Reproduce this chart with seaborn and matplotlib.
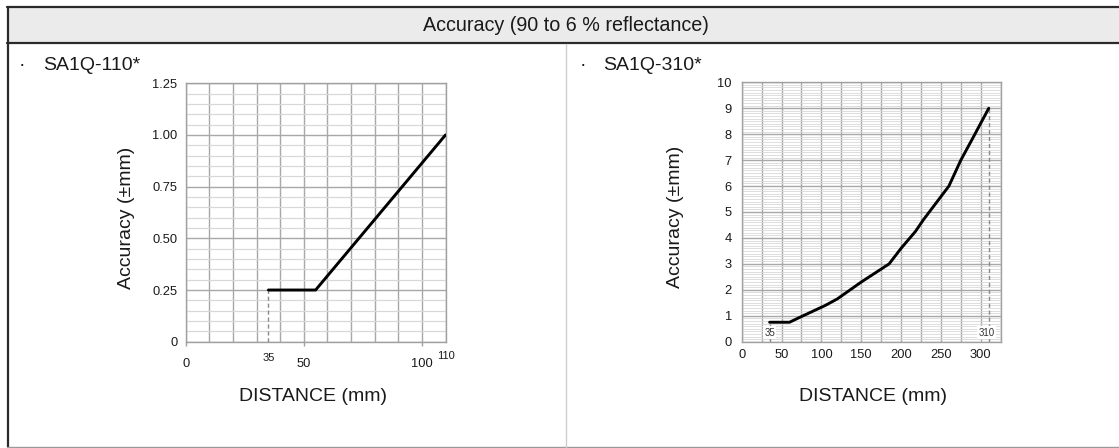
import numpy as np
import pandas as pd
import matplotlib
matplotlib.use("Agg")
import matplotlib.pyplot as plt
import matplotlib.transforms as mtransforms
from matplotlib.patches import Rectangle
from matplotlib.lines import Line2D
import seaborn as sns

# ---------------- data ----------------
title_text = "Accuracy (90 to 6 % reflectance)"
left_model = "SA1Q-110*"
right_model = "SA1Q-310*"

left_dist = [35, 55, 110]
left_acc = [0.25, 0.25, 1.00]
left_xticks = [0, 50, 100]
left_yticks = [0, 0.25, 0.50, 0.75, 1.00, 1.25]
left_yticklabels = ["0", "0.25", "0.50", "0.75", "1.00", "1.25"]
left_marks = [35, 110]

right_dist = [35, 60, 75, 105, 120, 150, 185, 200, 218, 228, 260, 275, 290, 310]
right_acc = [0.75, 0.75, 0.97, 1.40, 1.65, 2.30, 3.00, 3.60, 4.25, 4.70, 6.00, 7.00, 7.85, 9.00]
right_xticks = [0, 50, 100, 150, 200, 250, 300]
right_yticks = list(range(0, 11))
right_marks = [35, 310]

xlabel = "DISTANCE (mm)"
ylabel = "Accuracy (\u00b1mm)"

# ---------------- style ----------------
sns.set_theme(style="white")
plt.rcParams["font.family"] = ["Liberation Sans", "DejaVu Sans"]

W, H = 1119, 448
fig = plt.figure(figsize=(W / 100, H / 100), dpi=100)

def px_rect(l, t, r, b):
    return [l / W, 1 - b / H, (r - l) / W, (b - t) / H]

# frame / title bar
fig.add_artist(Rectangle((7 / W, 1 - 44 / H), 1 - 7 / W, 37 / H, transform=fig.transFigure,
                         facecolor="#ebebeb", edgecolor="none", zorder=0))
for yy in (7.5, 43.5):
    fig.add_artist(Line2D([7 / W, 1], [1 - yy / H] * 2, transform=fig.transFigure,
                          color="#2a2a2a", lw=1.6))
fig.add_artist(Line2D([8 / W] * 2, [1 - 7 / H, 1 - 447 / H], transform=fig.transFigure,
                      color="#2a2a2a", lw=1.6))
fig.add_artist(Line2D([7 / W, 1], [1 - 447 / H] * 2, transform=fig.transFigure,
                      color="#9a9a9a", lw=1.0))
fig.add_artist(Line2D([566 / W] * 2, [1 - 44 / H, 1 - 447 / H], transform=fig.transFigure,
                      color="#cfcfcf", lw=1.0))
fig.text(566 / W, 1 - 25.5 / H, title_text, ha="center", va="center", fontsize=14.2, color="#1a1a1a")

# subtitles
fig.text(22 / W, 1 - 66 / H, "\u00b7", ha="center", va="center", fontsize=14, color="#1a1a1a")
fig.text(43 / W, 1 - 66 / H, left_model, ha="left", va="center", fontsize=14, color="#1a1a1a")
fig.text(583 / W, 1 - 66 / H, "\u00b7", ha="center", va="center", fontsize=14, color="#1a1a1a")
fig.text(603 / W, 1 - 66 / H, right_model, ha="left", va="center", fontsize=14, color="#1a1a1a")

axL = fig.add_axes(px_rect(185.7, 83.3, 445.5, 341.7))
axR = fig.add_axes(px_rect(741.7, 82.3, 1000.7, 341.7))

major_c = "#a8a8a8"
minor_c = "#d8d8d8"

def style_axes(ax, minor_lw):
    ax.set_facecolor("white")
    for s in ax.spines.values():
        s.set_color("#a0a0a0")
        s.set_linewidth(1.0)
    ax.set_axisbelow(True)
    ax.grid(which="minor", axis="y", color=minor_c, lw=minor_lw)
    ax.grid(which="major", axis="y", color=major_c, lw=1.0)
    ax.grid(which="both", axis="x", color=major_c, lw=1.0)

# ---------- left chart ----------
dfL = pd.DataFrame({"dist": left_dist, "acc": left_acc})
sns.lineplot(data=dfL, x="dist", y="acc", ax=axL, color="black", lw=2.1, zorder=5)
axL.set_xlim(0, 110)
axL.set_ylim(0, 1.25)
axL.set_xticks(left_xticks)
axL.set_xticks(np.arange(0, 111, 10), minor=True)
axL.set_yticks(left_yticks)
axL.set_yticklabels(left_yticklabels)
axL.set_yticks(np.arange(0, 1.2501, 0.05), minor=True)
style_axes(axL, 0.9)
axL.tick_params(axis="x", which="major", length=3, width=1, color="#a0a0a0", pad=9,
                labelsize=9.3, labelcolor="#1a1a1a", bottom=True)
axL.tick_params(axis="x", which="minor", length=0)
axL.tick_params(axis="y", which="both", length=0, pad=6, labelsize=9.3, labelcolor="#1a1a1a")
axL.vlines(left_dist[0], 0, left_acc[0], colors="#8a8a8a", linestyles=(0, (3, 2)), lw=1.0, zorder=4)
tL = mtransforms.blended_transform_factory(axL.transData, axL.transAxes)
axL.text(left_marks[0], -0.045, str(left_marks[0]), transform=tL, ha="center", va="top",
         fontsize=8, color="#1a1a1a")
axL.text(left_marks[1], -0.035, str(left_marks[1]), transform=tL, ha="center", va="top",
         fontsize=8, color="#1a1a1a")
axL.set_xlabel(xlabel, fontsize=14, color="#1a1a1a")
axL.set_ylabel(ylabel, fontsize=14, color="#1a1a1a")
axL.xaxis.set_label_coords(0.489, -0.213)
axL.xaxis.label.set_va("center")
axL.yaxis.set_label_coords(-0.226, 0.48)
axL.yaxis.label.set_va("center")

# ---------- right chart ----------
dfR = pd.DataFrame({"dist": right_dist, "acc": right_acc})
sns.lineplot(data=dfR, x="dist", y="acc", ax=axR, color="black", lw=2.1, zorder=5)
axR.set_xlim(0, 325)
axR.set_ylim(0, 10)
axR.set_xticks(right_xticks)
axR.set_xticks(np.arange(0, 326, 25), minor=True)
axR.set_yticks(right_yticks)
axR.set_yticks(np.arange(0, 10.001, 0.1), minor=True)
style_axes(axR, 0.6)
axR.tick_params(axis="x", which="both", length=0, pad=5, labelsize=9.3, labelcolor="#1a1a1a")
axR.tick_params(axis="y", which="both", length=0, pad=7, labelsize=9.3, labelcolor="#1a1a1a")
axR.vlines(right_marks[0], 0, right_acc[0], colors="#8a8a8a", linestyles=(0, (3, 2)), lw=1.0, zorder=4)
axR.vlines(right_marks[1], 0, right_acc[-1], colors="#8a8a8a", linestyles=(0, (3, 2)), lw=1.0, zorder=4)
axR.text(right_marks[0], 0.35, str(right_marks[0]), ha="center", va="center", fontsize=7,
         color="#333333", zorder=6,
         bbox=dict(facecolor="white", edgecolor="none", pad=1.0))
axR.text(right_marks[1] - 3, 0.35, str(right_marks[1]), ha="center", va="center", fontsize=7,
         color="#333333", zorder=6,
         bbox=dict(facecolor="white", edgecolor="none", pad=1.0))
axR.set_xlabel(xlabel, fontsize=14, color="#1a1a1a")
axR.set_ylabel(ylabel, fontsize=14, color="#1a1a1a")
axR.xaxis.set_label_coords(0.507, -0.213)
axR.xaxis.label.set_va("center")
axR.yaxis.set_label_coords(-0.254, 0.48)
axR.yaxis.label.set_va("center")

fig.savefig("out.png", dpi=100, facecolor="white")
